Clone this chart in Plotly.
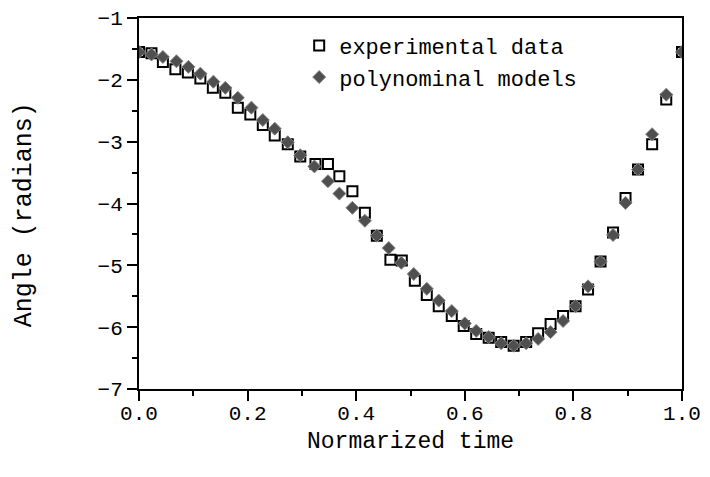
import plotly.graph_objects as go

# experimental data (hollow squares)
exp_t = [0.0, 0.023, 0.044, 0.067, 0.090, 0.113, 0.136, 0.159, 0.182, 0.205,
         0.228, 0.250, 0.274, 0.297, 0.325, 0.348, 0.369, 0.393, 0.416, 0.438,
         0.463, 0.484, 0.508, 0.530, 0.552, 0.576, 0.598, 0.621, 0.644, 0.667,
         0.690, 0.713, 0.735, 0.758, 0.781, 0.804, 0.827, 0.850, 0.873, 0.896,
         0.919, 0.945, 0.971, 1.0]
exp_angle = [-1.55, -1.57, -1.71, -1.83, -1.88, -1.98, -2.13, -2.21, -2.45, -2.56,
             -2.73, -2.90, -3.04, -3.24, -3.36, -3.36, -3.56, -3.80, -4.15, -4.52,
             -4.91, -4.92, -5.25, -5.48, -5.66, -5.82, -5.98, -6.11, -6.17, -6.24,
             -6.30, -6.24, -6.10, -5.95, -5.82, -5.66, -5.39, -4.94, -4.47, -3.91,
             -3.45, -3.04, -2.32, -1.55]

# polynominal models (grey diamonds)
mod_t = [0.0, 0.023, 0.044, 0.069, 0.091, 0.113, 0.137, 0.159, 0.182, 0.207,
         0.228, 0.250, 0.274, 0.297, 0.323, 0.348, 0.369, 0.393, 0.416, 0.438,
         0.460, 0.483, 0.506, 0.530, 0.552, 0.576, 0.600, 0.621, 0.644, 0.667,
         0.690, 0.713, 0.735, 0.758, 0.781, 0.804, 0.827, 0.850, 0.873, 0.896,
         0.919, 0.945, 0.971, 1.0]
mod_angle = [-1.55, -1.59, -1.63, -1.70, -1.79, -1.90, -2.03, -2.13, -2.29, -2.45,
             -2.65, -2.79, -3.01, -3.22, -3.40, -3.64, -3.84, -4.07, -4.28, -4.52,
             -4.72, -4.96, -5.14, -5.38, -5.57, -5.74, -5.94, -6.06, -6.16, -6.26,
             -6.30, -6.26, -6.19, -6.08, -5.90, -5.66, -5.34, -4.94, -4.51, -3.99,
             -3.45, -2.88, -2.24, -1.55]

mono = "Liberation Mono, Courier New, monospace"

fig = go.Figure()
fig.add_trace(go.Scatter(
    x=exp_t, y=exp_angle, mode="markers", name="experimental data",
    marker=dict(symbol="square-open", size=10, color="black", line=dict(width=2, color="black")),
))
fig.add_trace(go.Scatter(
    x=mod_t, y=mod_angle, mode="markers", name="polynominal models",
    marker=dict(symbol="diamond", size=10, color="#4f4f4f", line=dict(width=1, color="#858585")),
))

axis_common = dict(
    showline=True, linecolor="black", linewidth=2, mirror=True,
    ticks="outside", ticklen=10, tickwidth=2, tickcolor="black",
    showgrid=False, zeroline=False, automargin=False, ticklabeloverflow="allow",
    tickfont=dict(family=mono, size=21, color="black"),
)

fig.update_xaxes(
    range=[0, 1], dtick=0.2, tickformat=".1f", ticklabelstandoff=-6,
    minor=dict(dtick=0.1, ticks="outside", ticklen=5, tickwidth=2, tickcolor="black"),
    **axis_common,
)
fig.update_yaxes(
    range=[-7, -1], dtick=1,
    minor=dict(dtick=0.5, ticks="outside", ticklen=5, tickwidth=2, tickcolor="black"),
    **axis_common,
)

# axis titles
fig.add_annotation(text="Normarized time", xref="paper", yref="paper", x=0.5, y=-0.142,
                   xanchor="center", yanchor="middle", showarrow=False,
                   font=dict(family=mono, size=23, color="black"))
fig.add_annotation(text="Angle (radians)", xref="paper", yref="paper", x=-0.2107, y=0.47,
                   xanchor="center", yanchor="middle", textangle=-90, showarrow=False,
                   font=dict(family=mono, size=25, color="black"))

# page body adds an 8px offset, margins compensate
fig.update_layout(
    width=710, height=477,
    margin=dict(l=131, r=36, t=10, b=96),
    plot_bgcolor="white", paper_bgcolor="white",
    legend=dict(x=0.295, y=0.982, xanchor="left", yanchor="top",
                font=dict(family=mono, size=22, color="black"),
                bgcolor="rgba(0,0,0,0)", tracegroupgap=0),
)

fig.write_html("out.html")
